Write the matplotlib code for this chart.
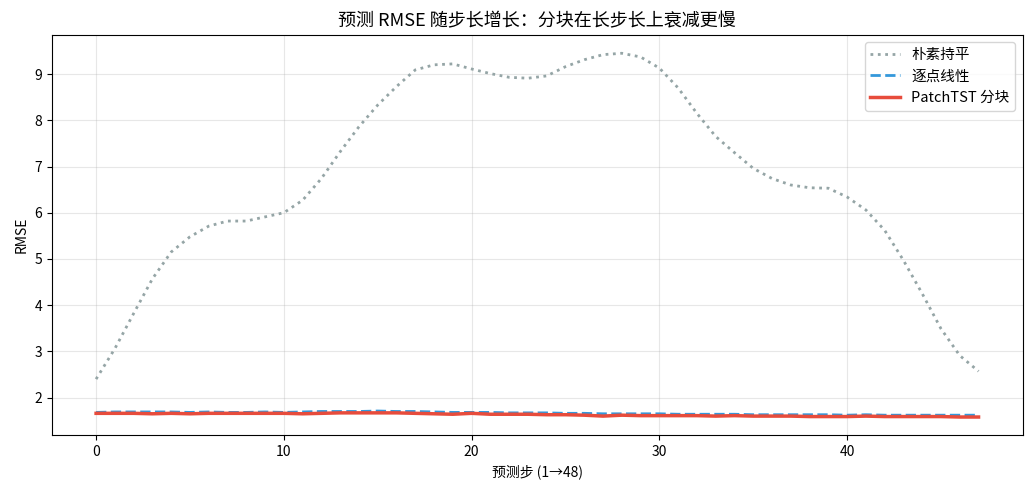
import matplotlib
matplotlib.use('Agg')
import matplotlib.pyplot as plt
import numpy as np

plt.rcParams['font.family'] = ['Noto Sans CJK SC', 'DejaVu Sans']

steps = np.arange(48)

naive = [2.40, 3.06, 3.82, 4.57, 5.15, 5.48, 5.71, 5.82, 5.82, 5.91,
         6.00, 6.27, 6.74, 7.32, 7.86, 8.33, 8.73, 9.09, 9.20, 9.22,
         9.11, 9.01, 8.93, 8.91, 8.96, 9.16, 9.31, 9.42, 9.45, 9.37,
         9.13, 8.70, 8.15, 7.65, 7.30, 6.96, 6.74, 6.60, 6.54, 6.53,
         6.34, 6.06, 5.62, 4.97, 4.25, 3.49, 2.91, 2.57]

linear = [1.68, 1.69, 1.69, 1.69, 1.69, 1.68, 1.69, 1.68, 1.68, 1.69,
          1.68, 1.69, 1.70, 1.70, 1.70, 1.71, 1.70, 1.70, 1.69, 1.68,
          1.68, 1.68, 1.67, 1.67, 1.67, 1.66, 1.66, 1.65, 1.65, 1.65,
          1.65, 1.64, 1.64, 1.64, 1.64, 1.63, 1.63, 1.63, 1.63, 1.63,
          1.62, 1.63, 1.62, 1.62, 1.62, 1.62, 1.62, 1.62]

patch = [1.66, 1.66, 1.66, 1.65, 1.66, 1.65, 1.66, 1.66, 1.66, 1.66,
         1.66, 1.65, 1.66, 1.67, 1.67, 1.67, 1.67, 1.66, 1.65, 1.64,
         1.66, 1.64, 1.64, 1.64, 1.63, 1.63, 1.62, 1.60, 1.62, 1.61,
         1.61, 1.61, 1.61, 1.60, 1.61, 1.60, 1.60, 1.60, 1.59, 1.59,
         1.59, 1.60, 1.59, 1.59, 1.59, 1.59, 1.58, 1.58]

fig = plt.figure(figsize=(10.33, 4.94), dpi=100)
ax = fig.add_axes([0.0503, 0.119, 0.9397, 0.81])

ax.plot(steps, naive, ':', color='#95a5a6', lw=2, label='朴素持平')
ax.plot(steps, linear, '--', color='#3498db', lw=2, label='逐点线性')
ax.plot(steps, patch, '-', color='#e74c3c', lw=2.5, label='PatchTST 分块')

ax.set_xlabel('预测步 (1→48)', fontsize=10)
ax.set_ylabel('RMSE', fontsize=10)
ax.set_title('预测 RMSE 随步长增长：分块在长步长上衰减更慢', fontsize=13)
ax.grid(True, alpha=0.3)
ax.legend(loc='upper right', fontsize=10.5)

fig.savefig('out.png', dpi=100)
